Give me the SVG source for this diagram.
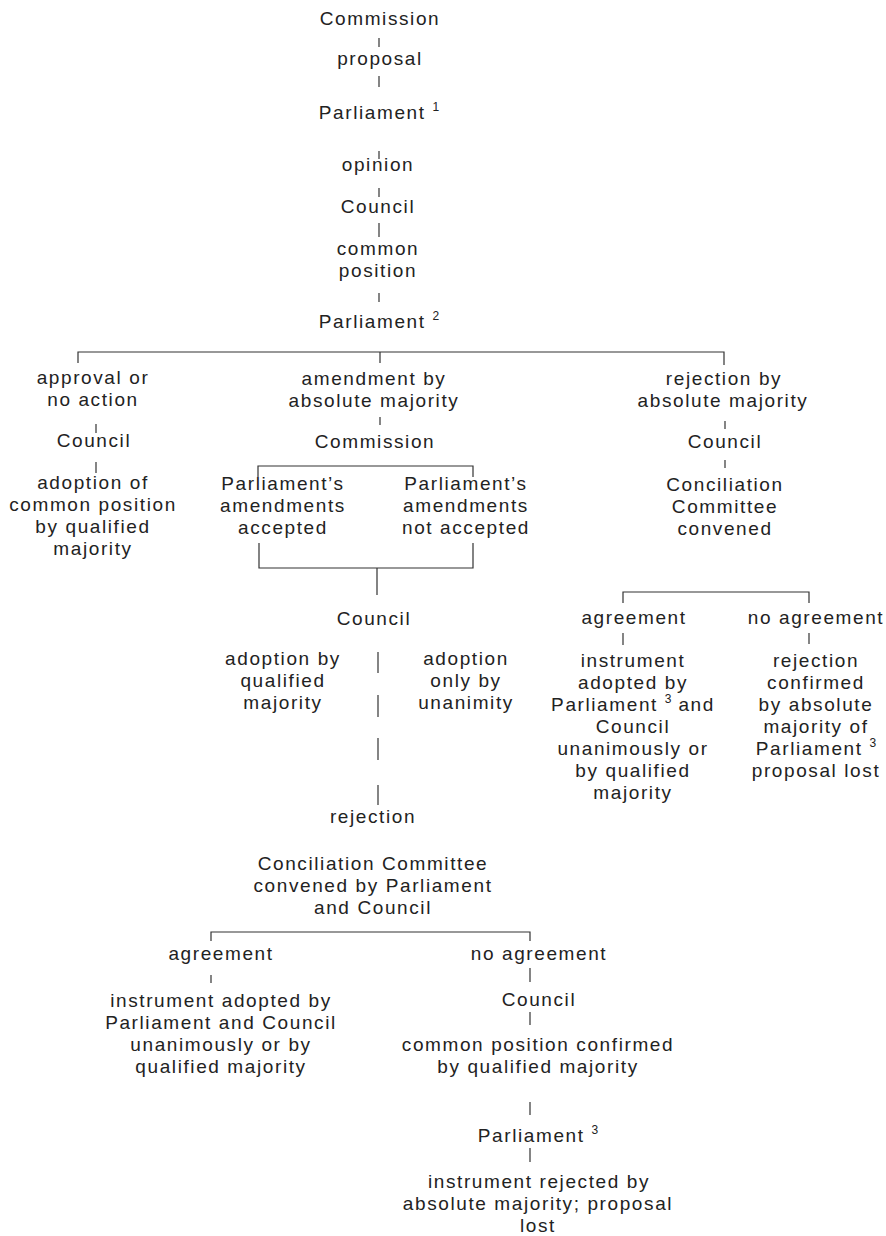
<svg xmlns="http://www.w3.org/2000/svg" width="886" height="1236" viewBox="0 0 886 1236">
<style>
text{font-family:"Liberation Sans",Arial,sans-serif;font-size:19px;letter-spacing:1.6px;fill:#222;text-anchor:middle}
.sup{font-size:12px;letter-spacing:0}
#connectors line,#connectors path{stroke:#333;stroke-width:1.2;fill:none}
</style>
<rect width="886" height="1236" fill="#fff"/>
<g id="connectors">
<line x1="379" y1="38" x2="379" y2="47"/>
<line x1="379" y1="76" x2="379" y2="87"/>
<line x1="379" y1="151" x2="379" y2="159"/>
<line x1="379" y1="188" x2="379" y2="197"/>
<line x1="379" y1="223" x2="379" y2="237"/>
<line x1="379" y1="293" x2="379" y2="302"/>
<path d="M78 363V352H724V365M380 352V363"/>
<line x1="96" y1="424" x2="96" y2="433"/>
<line x1="96" y1="462" x2="96" y2="473"/>
<line x1="380" y1="417" x2="380" y2="425"/>
<path d="M258 477V466H473V477"/>
<path d="M259 543V568H473V543M377 568V595"/>
<line x1="378" y1="652" x2="378" y2="673"/>
<line x1="378" y1="695" x2="378" y2="717"/>
<line x1="378" y1="738" x2="378" y2="760"/>
<line x1="378" y1="785" x2="378" y2="805"/>
<line x1="725" y1="421" x2="725" y2="429"/>
<line x1="725" y1="460" x2="725" y2="468"/>
<path d="M623 603V592H809V603"/>
<line x1="623" y1="633" x2="623" y2="645"/>
<line x1="809" y1="633" x2="809" y2="644"/>
<path d="M211 941V932H530V941"/>
<line x1="211" y1="975" x2="211" y2="983"/>
<line x1="530" y1="968" x2="530" y2="982"/>
<line x1="530" y1="1012" x2="530" y2="1025"/>
<line x1="530" y1="1102" x2="530" y2="1115"/>
<line x1="530" y1="1148" x2="530" y2="1162"/>
</g>
<g id="n-commission"><text x="380" y="25">Commission</text></g>
<g id="n-proposal"><text x="380" y="65">proposal</text></g>
<g id="n-parliament1"><text x="379" y="119">Parliament <tspan class="sup" dy="-8">1</tspan></text></g>
<g id="n-opinion"><text x="378" y="171">opinion</text></g>
<g id="n-council1"><text x="378" y="213">Council</text></g>
<g id="n-common-position"><text x="378" y="255">common</text><text x="378" y="277">position</text></g>
<g id="n-parliament2"><text x="379" y="328">Parliament <tspan class="sup" dy="-8">2</tspan></text></g>

<g id="n-approval"><text x="93" y="384">approval or</text><text x="93" y="406">no action</text></g>
<g id="n-council-left"><text x="94" y="447">Council</text></g>
<g id="n-adoption-common"><text x="93" y="489">adoption of</text><text x="93" y="511">common position</text><text x="93" y="533">by qualified</text><text x="93" y="555">majority</text></g>

<g id="n-amendment"><text x="374" y="385">amendment by</text><text x="374" y="407">absolute majority</text></g>
<g id="n-commission2"><text x="375" y="448">Commission</text></g>
<g id="n-accepted"><text x="283" y="490">Parliament’s</text><text x="283" y="512">amendments</text><text x="283" y="534">accepted</text></g>
<g id="n-not-accepted"><text x="466" y="490">Parliament’s</text><text x="466" y="512">amendments</text><text x="466" y="534">not accepted</text></g>
<g id="n-council-mid"><text x="374" y="625">Council</text></g>
<g id="n-adoption-qm"><text x="283" y="665">adoption by</text><text x="283" y="687">qualified</text><text x="283" y="709">majority</text></g>
<g id="n-adoption-un"><text x="466" y="665">adoption</text><text x="466" y="687">only by</text><text x="466" y="709">unanimity</text></g>
<g id="n-rejection-mid"><text x="373" y="823">rejection</text></g>
<g id="n-conciliation-mid"><text x="373" y="870">Conciliation Committee</text><text x="373" y="892">convened by Parliament</text><text x="373" y="914">and Council</text></g>
<g id="n-agreement-bl"><text x="221" y="960">agreement</text></g>
<g id="n-instrument-bl"><text x="221" y="1007">instrument adopted by</text><text x="221" y="1029">Parliament and Council</text><text x="221" y="1051">unanimously or by</text><text x="221" y="1073">qualified majority</text></g>
<g id="n-noagreement-b"><text x="539" y="960">no agreement</text></g>
<g id="n-council-b"><text x="539" y="1006">Council</text></g>
<g id="n-common-confirmed"><text x="538" y="1051">common position confirmed</text><text x="538" y="1073">by qualified majority</text></g>
<g id="n-parliament3-b"><text x="538" y="1142">Parliament <tspan class="sup" dy="-8">3</tspan></text></g>
<g id="n-instrument-rejected"><text x="539" y="1188">instrument rejected by</text><text x="538" y="1210">absolute majority; proposal</text><text x="538" y="1232">lost</text></g>

<g id="n-rejection-abs"><text x="724" y="385">rejection by</text><text x="723" y="407">absolute majority</text></g>
<g id="n-council-right"><text x="725" y="448">Council</text></g>
<g id="n-conciliation-right"><text x="725" y="491">Conciliation</text><text x="725" y="513">Committee</text><text x="725" y="535">convened</text></g>
<g id="n-agreement-r"><text x="634" y="624">agreement</text></g>
<g id="n-instrument-r"><text x="633" y="667">instrument</text><text x="633" y="689">adopted by</text><text x="633" y="711">Parliament <tspan class="sup" dy="-8">3</tspan><tspan dy="8"> and</tspan></text><text x="633" y="733">Council</text><text x="633" y="755">unanimously or</text><text x="633" y="777">by qualified</text><text x="633" y="799">majority</text></g>
<g id="n-noagreement-r"><text x="816" y="624">no agreement</text></g>
<g id="n-rejection-confirmed"><text x="816" y="667">rejection</text><text x="816" y="689">confirmed</text><text x="816" y="711">by absolute</text><text x="816" y="733">majority of</text><text x="816" y="755">Parliament <tspan class="sup" dy="-8">3</tspan></text><text x="816" y="777">proposal lost</text></g>
</svg>
